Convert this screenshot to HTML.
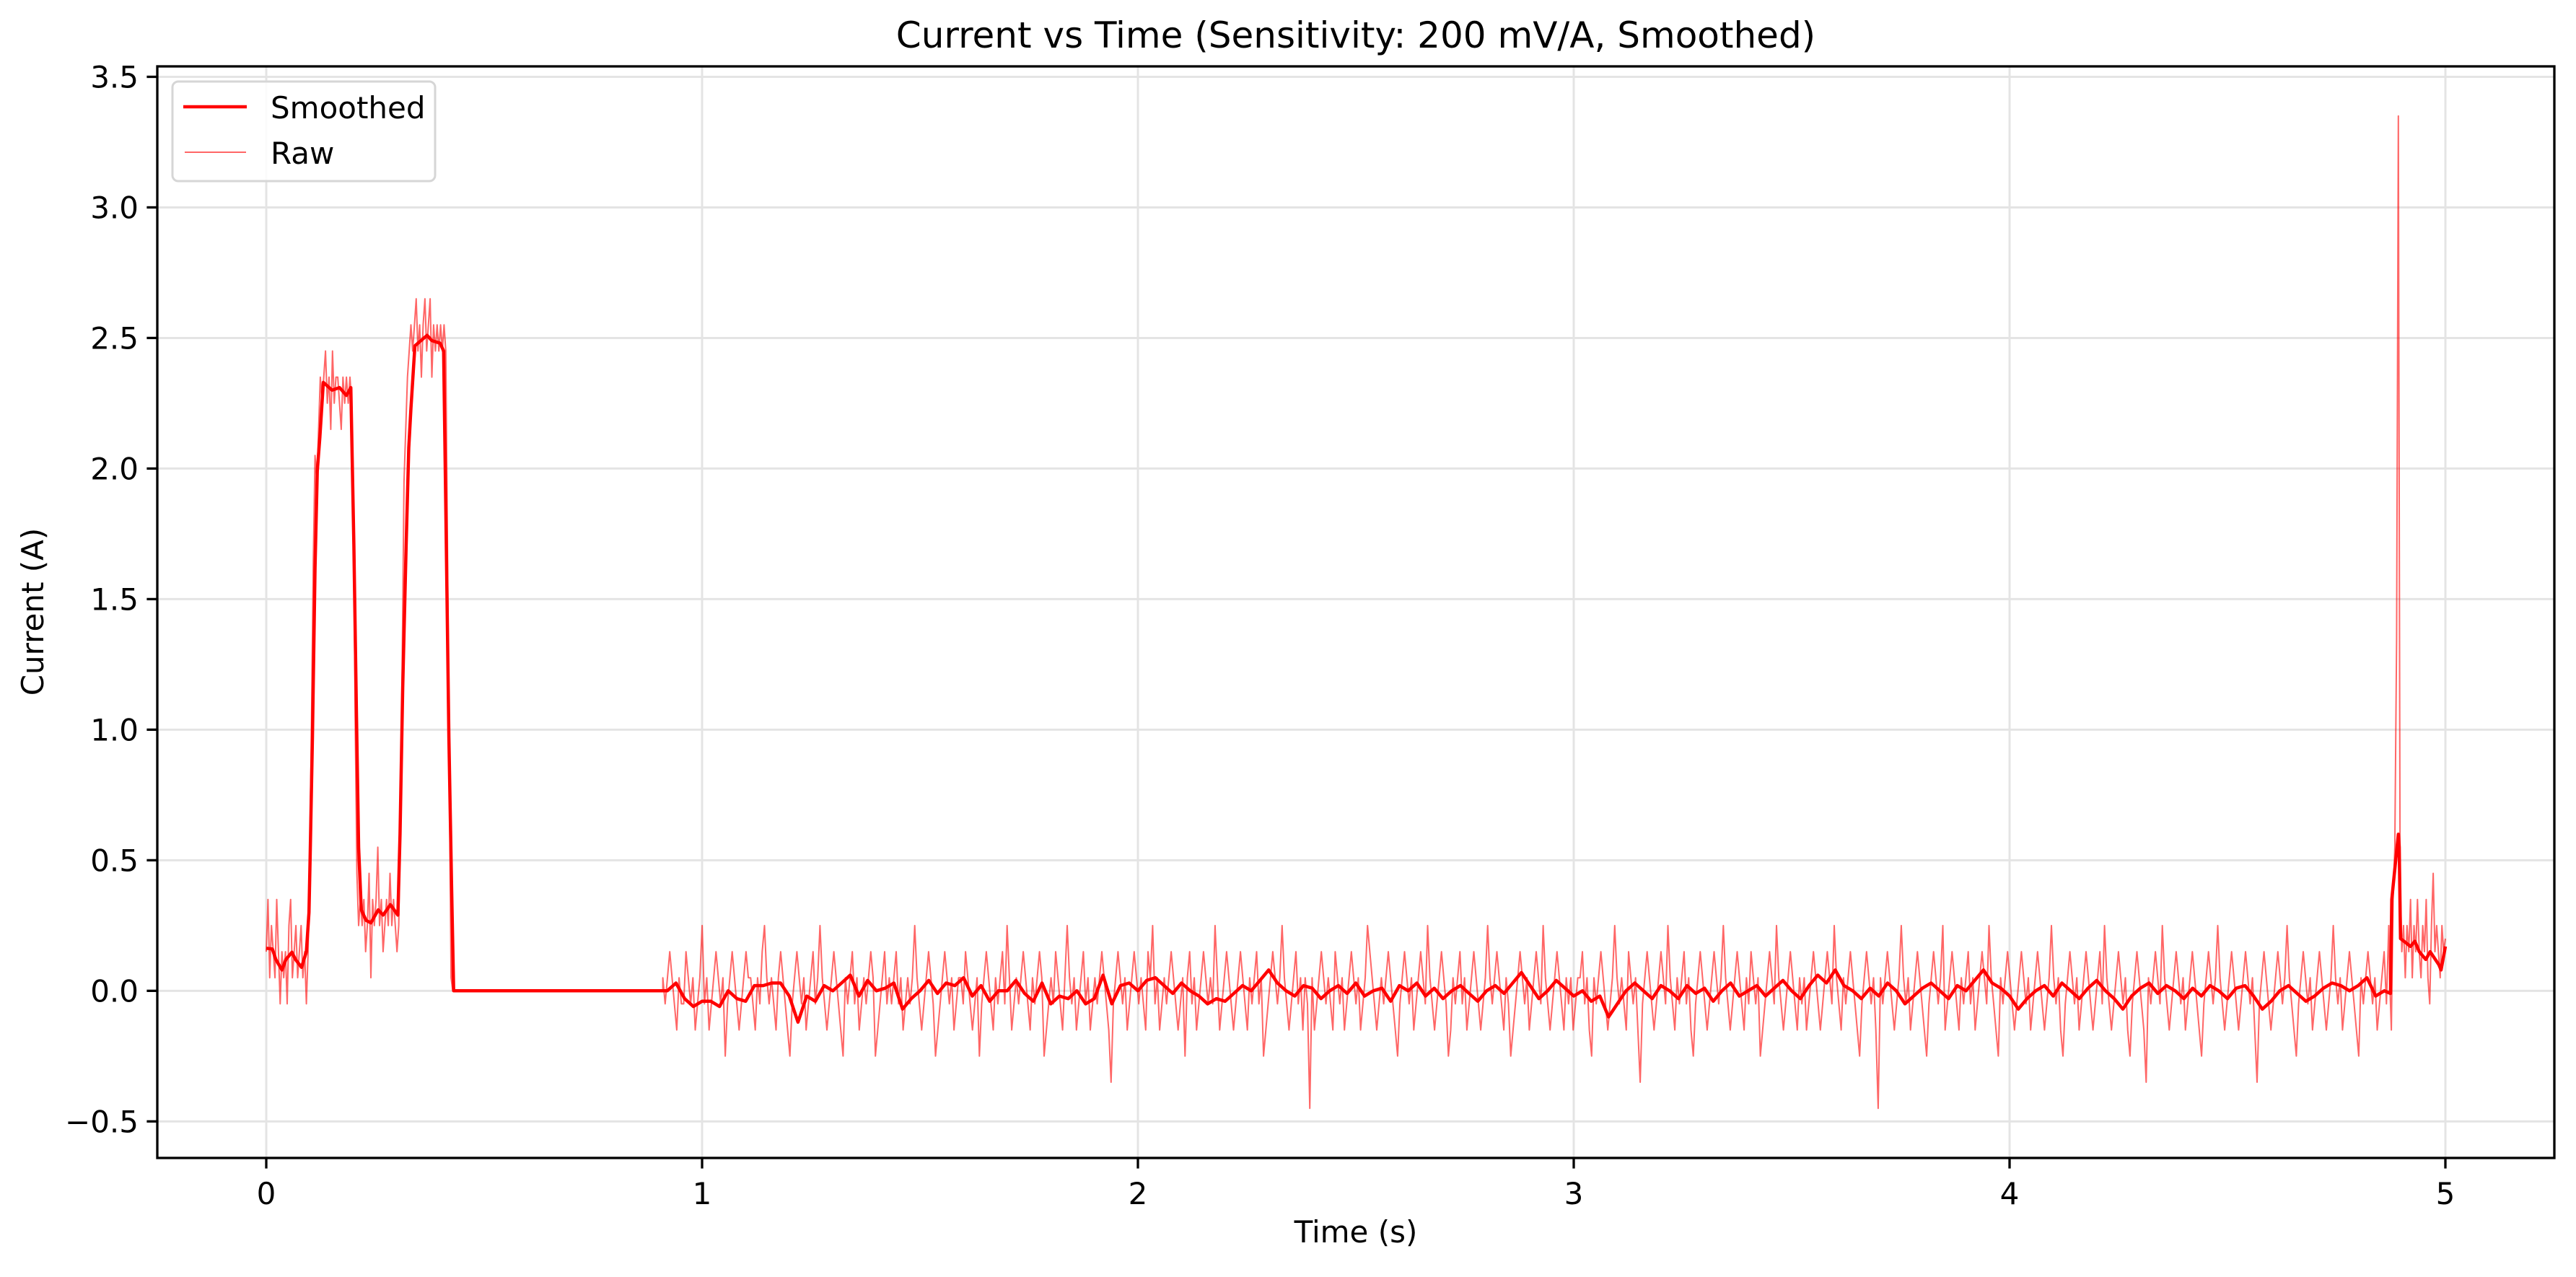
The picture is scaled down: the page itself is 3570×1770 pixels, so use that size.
<!DOCTYPE html>
<html><head><meta charset="utf-8"><style>
html,body{margin:0;padding:0;background:#fff;}
svg text{font-family:"DejaVu Sans","Liberation Sans",sans-serif;}
</style></head><body>
<svg id="chart" width="3570" height="1765" viewBox="0 0 3570 1765" xmlns="http://www.w3.org/2000/svg">
<rect x="0" y="0" width="3570" height="1765" fill="#fff"/>
<g id="grid"></g>
<g id="series"></g>
<g id="axes"></g>
<text x="1879" y="66" font-size="50" text-anchor="middle">Current vs Time (Sensitivity: 200 mV/A, Smoothed)</text>
<text x="1879" y="1722" font-size="42" text-anchor="middle">Time (s)</text>
<text x="60" y="848" font-size="42" text-anchor="middle" transform="rotate(-90 60 848)">Current (A)</text>
<g>
<rect x="239" y="113" width="364" height="138" rx="8" fill="rgba(255,255,255,0.85)" stroke="#d6d6d6" stroke-width="3"/>
<line x1="254" y1="148" x2="342" y2="148" stroke="#ff0000" stroke-width="4.5"/>
<text x="375" y="164" font-size="42">Smoothed</text>
<line x1="256" y1="211" x2="341" y2="211" stroke="rgba(255,0,0,0.6)" stroke-width="2"/>
<text x="375" y="227" font-size="42">Raw</text>
</g>
</svg>
<script>
const xTicks = [0,1,2,3,4,5];
const xTickLabels = ["0","1","2","3","4","5"];
const yTicks = [-0.5,0,0.5,1,1.5,2,2.5,3,3.5];
const yTickLabels = ["\u22120.5","0.0","0.5","1.0","1.5","2.0","2.5","3.0","3.5"];
const xDomain = [-0.25,5.25];
const yDomain = [-0.64,3.54];

const rawPulseStart = 0;
const rawPulseDt = 0.004;
const rawPulseValues = [0.15,0.35,0.05,0.25,0.15,0.05,0.35,0.15,-0.05,0.15,0.05,0.15,-0.05,0.25,0.35,0.05,0.15,0.25,0.05,0.15,0.25,0.05,0.15,-0.05,0.15,
0.55,1.05,1.65,2.05,1.95,2.15,2.35,2.25,
2.35,2.45,2.25,2.35,2.15,2.45,2.25,2.35,2.35,2.25,2.15,2.35,2.25,2.35,2.25,2.35,2.25,
1.85,1.05,0.45,0.25,0.35,0.25,
0.35,0.15,0.25,0.45,0.05,0.35,0.25,0.35,0.55,0.25,0.35,0.15,0.25,0.35,0.25,0.45,0.25,0.35,0.25,0.15,
0.25,0.65,1.25,1.95,2.15,2.35,2.45,2.55,2.45,
2.55,2.65,2.45,2.55,2.35,2.55,2.65,2.45,2.55,2.65,2.35,2.55,2.45,2.55,2.45,2.55,2.45,
2.55,2.45,1.65,0.85,0.05,0];
const rawIdleTimes = [0.428,0.91];
const rawIdleValues = [0,0];
const rawNoiseStart = 0.91;
const rawNoiseEnd = 4.87;
const rawLevelCodes = "abcdefgh";
const rawLevelValues = [-0.45,-0.35,-0.25,-0.15,-0.05,0.05,0.15,0.25];
const rawNoiseCodes =
"fefgfedfeegfefdefhefdefgfefcefgfedefgffedfeghfefedfgfedcefgfefdefgefhfedefgfedcfefgefdefefgfcdefgefe"+
"fgefdefefhfedefgfecdefgfefdeffegfedefcefgfedfefgehfdefefgfedfefgfcdefegfedfhfefdefgefdefefgfedbefgf"+
"efdefgfefedgfhefdefefgfedefcfgefdefgfefehfdefgfedefgfedfefgefcdefgfefhfedefgefdfeafdefgfefedgfefdef"+
"gfefdefhgfedefefgfedcefgfefdefgfehfedefgfecdfefgefdefgfedefhfefgfedfecdefgfefdefgfehfedefgfedfefdef"+
"fgefdcfefgfedefhfefedgfefdbefgfedefgfehfedfefgefdcefgfedefgfefhfedefgfedfegfefcdefgfehfedefgfedfefd"+
"efgfedefgfehfedfefgfedcefgfefdafefgfedefhfefdefgfedcefgfefhdefgfedfefgefdefgfehfedcfefgfedefgfefdef"+
"gfedefhfefdcefgfefdefgfedefgehfedefgfefdcefgfedbfefgfehfedefgfefdefgfedcefgfefhfedefgfedefgfefdbefg"+
"fedefgfefhfedcefgfefdefgfedefhfefdefgfedcfefgfefdefgeh";
const rawEndStart = 4.872;
const rawEndDt = 0.004;
const rawEndValues = [0.05,-0.15,0.35,0.55,1.35,3.35,0.45,0.15,0.25,0.05,0.25,0.15,0.35,0.05,0.25,0.15,0.35,0.15,0.05,0.25,0.15,0.35,0.05,-0.05,0.25,0.45,0.15,0.25,0.15,0.05,0.25,0.15,0.2];

const smPulseTimes = [0,0.014,0.022,0.036,0.045,0.059,0.067,0.081,0.092,0.098,0.1006,0.106,0.112,0.117,0.123,0.131,0.151,0.168,0.184,0.194,0.201,0.207,0.212,0.218,0.229,0.240,0.257,0.268,0.285,0.302,0.307,0.313,0.321,0.327,0.332,0.341,0.369,0.380,0.399,0.407,0.413,0.419,0.425,0.430,0.91,0.92];
const smPulseValues = [0.163,0.16,0.12,0.08,0.12,0.148,0.12,0.09,0.15,0.3,0.51,0.97,1.62,1.99,2.12,2.33,2.30,2.31,2.28,2.31,1.71,1.06,0.55,0.31,0.27,0.26,0.31,0.29,0.33,0.29,0.6,1.16,1.71,2.08,2.23,2.47,2.51,2.49,2.48,2.45,1.71,0.97,0.42,0,0,0];
const smNoiseStart = 0.92;
const smNoiseDt = 0.02;
const smNoiseValues = [0.0,0.03,-0.03,-0.06,-0.04,-0.04,-0.06,0.0,-0.03,-0.04,0.02,0.02,0.03,0.03,-0.02,-0.12,-0.02,-0.04,0.02,0.0,0.03,0.06,-0.02,0.04,0.0,0.01,0.03,-0.07,-0.03,0.0,0.04,-0.01,0.03,0.02,0.05,-0.02,0.02,-0.04,0.0,0.0,0.04,-0.01,-0.04,0.03,-0.05,-0.02,-0.03,0.0,-0.05,-0.03,0.06,-0.05,0.02,0.03,0.0,
0.04,0.05,0.02,-0.01,0.03,0.0,-0.02,-0.05,-0.03,-0.04,
-0.01,0.02,0.0,0.04,0.08,0.03,0.0,-0.02,0.02,0.01,
-0.03,0.0,0.02,-0.01,0.03,-0.02,0.0,0.01,-0.04,0.02,
0.0,0.03,-0.02,0.01,-0.03,0.0,0.02,-0.01,-0.04,0.0,
0.02,-0.01,0.03,0.07,0.02,-0.03,0.0,0.04,0.01,-0.02,
0.0,-0.04,-0.02,-0.1,-0.05,0.0,0.03,0.0,-0.03,0.02,
0.0,-0.03,0.02,-0.01,0.01,-0.04,0.0,0.03,-0.02,0.0,
0.02,-0.02,0.01,0.04,0.0,-0.03,0.02,0.06,0.03,0.08,
0.02,0.0,-0.03,0.01,-0.02,0.03,0.0,-0.05,-0.02,0.01,
0.03,0.0,-0.03,0.02,0.0,0.04,0.08,0.03,0.01,-0.02,
-0.07,-0.03,0.0,0.02,-0.02,0.03,0.0,-0.03,0.01,0.04,
0.0,-0.03,-0.07,-0.02,0.01,0.03,-0.01,0.02,0.0,-0.03,
0.01,-0.02,0.02,0.0,-0.03,0.01,0.02,-0.02,-0.07,-0.04,
0.0,0.02,-0.01,-0.04,-0.02,0.01,0.03,0.02,0.0,0.02,
0.05,-0.02,0.0];
const smEndTimes = [4.874,4.877,4.883,4.892,4.894,4.897,4.905,4.92,4.93,4.94,4.955,4.965,4.985,4.99,5.0];
const smEndValues = [-0.01,0.35,0.45,0.6,0.55,0.2,0.19,0.17,0.19,0.15,0.12,0.15,0.10,0.08,0.17];

const PL=218, PR=3540, PT=92, PB=1605;
function xS(t){return PL+(t-xDomain[0])/(xDomain[1]-xDomain[0])*(PR-PL);}
function yS(v){return PB-(v-yDomain[0])/(yDomain[1]-yDomain[0])*(PB-PT);}
const NS="http://www.w3.org/2000/svg";
function mk(tag,attrs,parent){const e=document.createElementNS(NS,tag);for(const k in attrs)e.setAttribute(k,attrs[k]);parent.appendChild(e);return e;}

const grid=document.getElementById('grid'), axes=document.getElementById('axes'), series=document.getElementById('series');
xTicks.forEach((t,i)=>{
  const g=mk('line',{x1:xS(t),x2:xS(t),y1:PT,y2:PB,stroke:'#e4e4e4','stroke-width':3},grid);
  
  
  const tk=mk('line',{x1:xS(t),x2:xS(t),y1:PB,y2:PB+14.6,stroke:'#000','stroke-width':3.3},axes);
  
  
  const lb=mk('text',{x:xS(t),y:PB+64,'font-size':42,'text-anchor':'middle'},axes);
  lb.textContent=xTickLabels[i];
  
  
});
yTicks.forEach((v,i)=>{
  const g=mk('line',{x1:PL,x2:PR,y1:yS(v),y2:yS(v),stroke:'#e4e4e4','stroke-width':3},grid);
  
  
  const tk=mk('line',{x1:PL-14.6,x2:PL,y1:yS(v),y2:yS(v),stroke:'#000','stroke-width':3.3},axes);
  
  
  const lb=mk('text',{x:PL-26,y:yS(v)+15,'font-size':42,'text-anchor':'end'},axes);
  lb.textContent=yTickLabels[i];
  
  
});
const frame=mk('rect',{x:PL,y:PT,width:PR-PL,height:PB-PT,fill:'none',stroke:'#000','stroke-width':3.3},axes);



const rawPts=[];
rawPulseValues.forEach((v,i)=>rawPts.push([rawPulseStart+i*rawPulseDt,v]));
rawIdleTimes.forEach((t,i)=>rawPts.push([t,rawIdleValues[i]]));
const nc=rawNoiseCodes.length, ndt=(rawNoiseEnd-rawNoiseStart)/(nc-1);
for(let i=0;i<nc;i++){rawPts.push([rawNoiseStart+i*ndt,rawLevelValues[rawLevelCodes.indexOf(rawNoiseCodes[i])]]);}
rawEndValues.forEach((v,i)=>rawPts.push([rawEndStart+i*rawEndDt,v]));
const smPts=[];
smPulseTimes.forEach((t,i)=>smPts.push([t,smPulseValues[i]]));
smNoiseValues.forEach((v,i)=>{const t=smNoiseStart+i*smNoiseDt; if(i>0)smPts.push([t,v]);});
smEndTimes.forEach((t,i)=>smPts.push([t,smEndValues[i]]));
function pathOf(p){return p.map((q,i)=>(i?'L':'M')+xS(q[0]).toFixed(1)+' '+yS(q[1]).toFixed(1)).join('');}
const rawPath=mk('path',{d:pathOf(rawPts),fill:'none',stroke:'rgba(255,0,0,0.6)','stroke-width':2,'stroke-linejoin':'round'},series);


const smPath=mk('path',{d:pathOf(smPts),fill:'none',stroke:'#ff0000','stroke-width':4.5,'stroke-linejoin':'round'},series);


</script>
</body></html>
